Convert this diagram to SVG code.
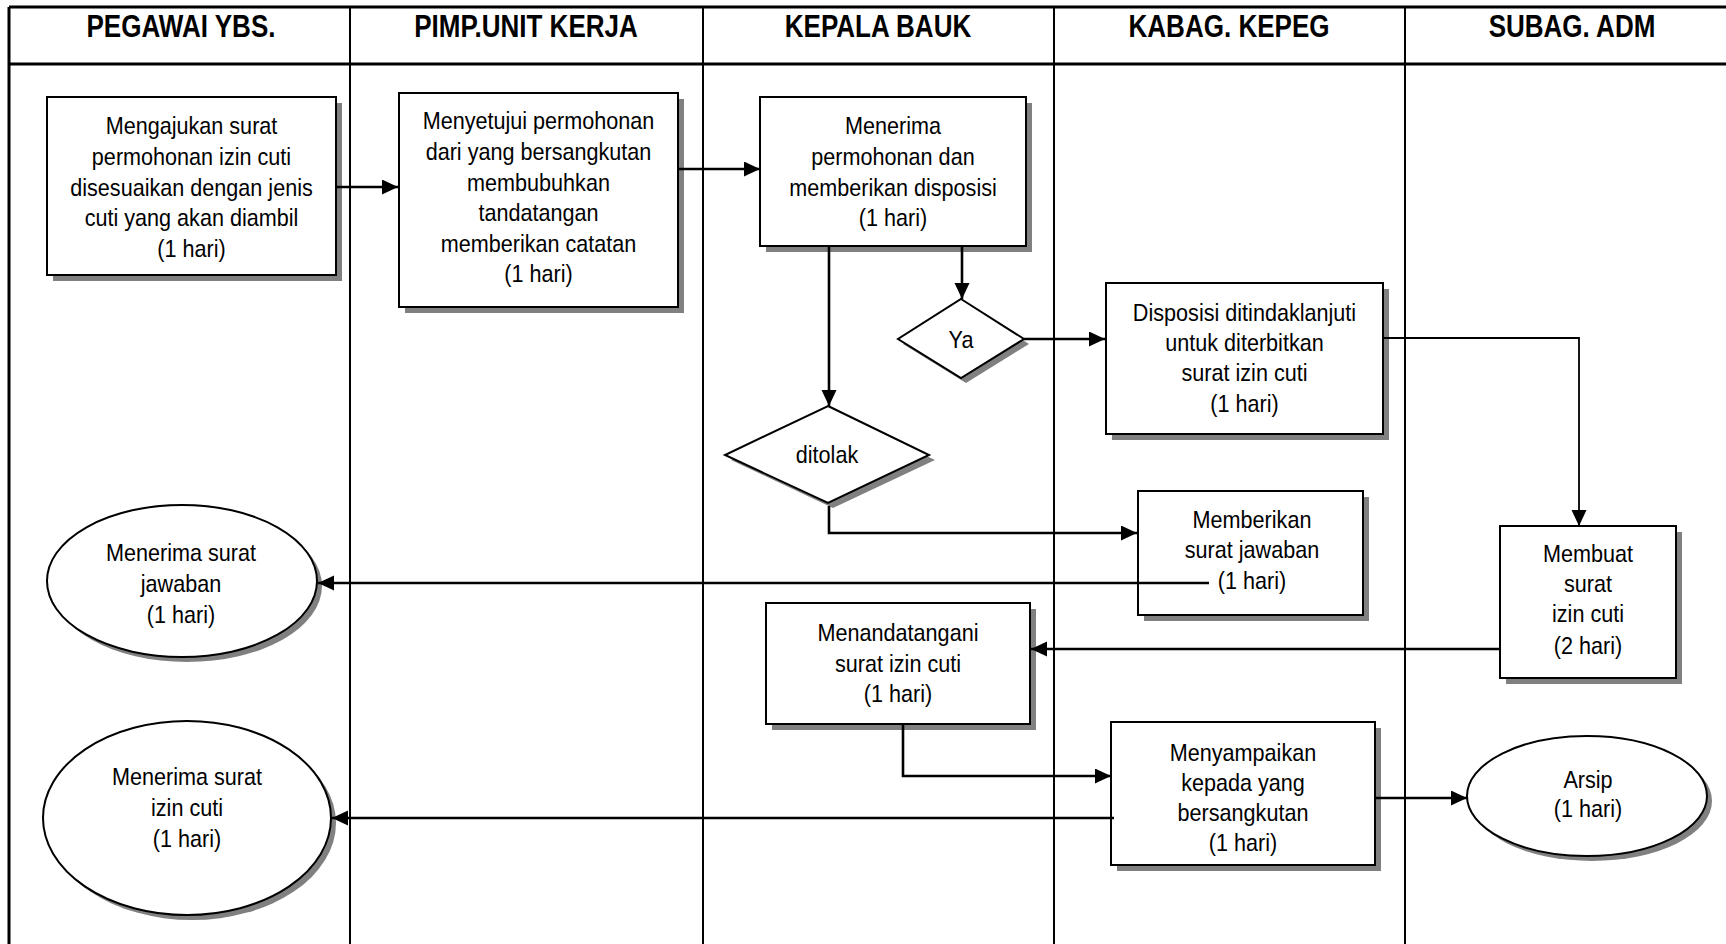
<svg xmlns="http://www.w3.org/2000/svg" width="1726" height="944" viewBox="0 0 1726 944">
<style>
.bg{fill:#fff}
.frame{stroke:#000;stroke-width:3;fill:none}
.lane{stroke:#000;stroke-width:2;fill:none}
.node{fill:#fff;stroke:#000;stroke-width:2}
.shadow{fill:#808080;stroke:none}
.hd{font-family:"Liberation Sans",Arial,sans-serif;font-weight:bold;font-size:31px;text-anchor:middle;fill:#000}
.t{font-family:"Liberation Sans",Arial,sans-serif;font-size:24px;text-anchor:middle;fill:#000}
.c{stroke:#000;stroke-width:2.6;fill:none}
.cthin{stroke:#000;stroke-width:1.8;fill:none}
</style>
<defs>
<marker id="ah" markerUnits="userSpaceOnUse" markerWidth="17" markerHeight="16" refX="16" refY="7.5" orient="auto">
<path d="M0,0 L16,7.5 L0,15 Z" fill="#000"/>
</marker>
</defs>
<rect class="bg" x="0" y="0" width="1726" height="944"/>
<g id="frame">
<line class="frame" x1="9" y1="7" x2="1726" y2="7"/>
<line class="frame" x1="9" y1="7" x2="9" y2="944"/>
<line class="frame" x1="9" y1="64" x2="1726" y2="64"/>
<line class="lane" x1="350" y1="7" x2="350" y2="944"/>
<line class="lane" x1="703" y1="7" x2="703" y2="944"/>
<line class="lane" x1="1054" y1="7" x2="1054" y2="944"/>
<line class="lane" x1="1405" y1="7" x2="1405" y2="944"/>
</g>
<g id="headers">
<text class="hd" transform="translate(181 0) scale(0.84 1)" x="0" y="37">PEGAWAI YBS.</text>
<text class="hd" transform="translate(526 0) scale(0.84 1)" x="0" y="37">PIMP.UNIT KERJA</text>
<text class="hd" transform="translate(878 0) scale(0.84 1)" x="0" y="37">KEPALA BAUK</text>
<text class="hd" transform="translate(1229 0) scale(0.84 1)" x="0" y="37">KABAG. KEPEG</text>
<text class="hd" transform="translate(1572 0) scale(0.84 1)" x="0" y="37">SUBAG. ADM</text>
</g>

<g id="n-mengajukan">
<rect class="shadow" x="53" y="103" width="289" height="178"/>
<rect class="node" x="47" y="97" width="289" height="178"/>
<text class="t" transform="translate(191.5 0) scale(0.9 1)"><tspan x="0" y="134">Mengajukan surat</tspan><tspan x="0" y="165">permohonan izin cuti</tspan><tspan x="0" y="196">disesuaikan dengan jenis</tspan><tspan x="0" y="226">cuti yang akan diambil</tspan><tspan x="0" y="257">(1 hari)</tspan></text>
</g>

<g id="n-menyetujui">
<rect class="shadow" x="405" y="99" width="279" height="214"/>
<rect class="node" x="399" y="93" width="279" height="214"/>
<text class="t" transform="translate(538.5 0) scale(0.9 1)"><tspan x="0" y="129">Menyetujui permohonan</tspan><tspan x="0" y="160">dari yang bersangkutan</tspan><tspan x="0" y="191">membubuhkan</tspan><tspan x="0" y="221">tandatangan</tspan><tspan x="0" y="252">memberikan catatan</tspan><tspan x="0" y="282">(1 hari)</tspan></text>
</g>

<g id="n-menerima">
<rect class="shadow" x="766" y="103" width="266" height="149"/>
<rect class="node" x="760" y="97" width="266" height="149"/>
<text class="t" transform="translate(893 0) scale(0.9 1)"><tspan x="0" y="134">Menerima</tspan><tspan x="0" y="165">permohonan dan</tspan><tspan x="0" y="196">memberikan disposisi</tspan><tspan x="0" y="226">(1 hari)</tspan></text>
</g>

<g id="n-ya">
<polygon class="shadow" points="966,304 1029,344 966,383 903,344"/>
<polygon class="node" points="961,299 1024,339 961,378 898,339"/>
<text class="t" transform="translate(961 0) scale(0.9 1)" x="0" y="348">Ya</text>
</g>

<g id="n-ditolak">
<polygon class="shadow" points="833,411 935,460 833,508 731,460"/>
<polygon class="node" points="828,406 929,455 828,503 725,455"/>
<text class="t" transform="translate(827 0) scale(0.9 1)" x="0" y="463">ditolak</text>
</g>

<g id="n-disposisi">
<rect class="shadow" x="1112" y="289" width="277" height="151"/>
<rect class="node" x="1106" y="283" width="277" height="151"/>
<text class="t" transform="translate(1244.5 0) scale(0.9 1)"><tspan x="0" y="321">Disposisi ditindaklanjuti</tspan><tspan x="0" y="351">untuk diterbitkan</tspan><tspan x="0" y="381">surat izin cuti</tspan><tspan x="0" y="412">(1 hari)</tspan></text>
</g>

<g id="n-memberikan">
<rect class="shadow" x="1144" y="497" width="225" height="124"/>
<rect class="node" x="1138" y="491" width="225" height="124"/>
<text class="t" transform="translate(1252 0) scale(0.9 1)"><tspan x="0" y="528">Memberikan</tspan><tspan x="0" y="558">surat jawaban</tspan><tspan x="0" y="589">(1 hari)</tspan></text>
</g>

<g id="n-membuat">
<rect class="shadow" x="1506" y="532" width="176" height="152"/>
<rect class="node" x="1500" y="526" width="176" height="152"/>
<text class="t" transform="translate(1588 0) scale(0.9 1)"><tspan x="0" y="562">Membuat</tspan><tspan x="0" y="592">surat</tspan><tspan x="0" y="622">izin cuti</tspan><tspan x="0" y="654">(2 hari)</tspan></text>
</g>

<g id="n-menandatangani">
<rect class="shadow" x="772" y="609" width="264" height="121"/>
<rect class="node" x="766" y="603" width="264" height="121"/>
<text class="t" transform="translate(898 0) scale(0.9 1)"><tspan x="0" y="641">Menandatangani</tspan><tspan x="0" y="672">surat izin cuti</tspan><tspan x="0" y="702">(1 hari)</tspan></text>
</g>

<g id="n-menyampaikan">
<rect class="shadow" x="1117" y="728" width="264" height="143"/>
<rect class="node" x="1111" y="722" width="264" height="143"/>
<text class="t" transform="translate(1243 0) scale(0.9 1)"><tspan x="0" y="761">Menyampaikan</tspan><tspan x="0" y="791">kepada yang</tspan><tspan x="0" y="821">bersangkutan</tspan><tspan x="0" y="851">(1 hari)</tspan></text>
</g>

<g id="n-terima-jawaban">
<ellipse class="shadow" cx="187" cy="586" rx="135" ry="76"/>
<ellipse class="node" cx="182" cy="581" rx="135" ry="76"/>
<text class="t" transform="translate(181 0) scale(0.9 1)"><tspan x="0" y="561">Menerima surat</tspan><tspan x="0" y="592">jawaban</tspan><tspan x="0" y="623">(1 hari)</tspan></text>
</g>

<g id="n-terima-izin">
<ellipse class="shadow" cx="192" cy="823" rx="144" ry="97"/>
<ellipse class="node" cx="187" cy="818" rx="144" ry="97"/>
<text class="t" transform="translate(187 0) scale(0.9 1)"><tspan x="0" y="785">Menerima surat</tspan><tspan x="0" y="816">izin cuti</tspan><tspan x="0" y="847">(1 hari)</tspan></text>
</g>

<g id="n-arsip">
<ellipse class="shadow" cx="1592" cy="801" rx="120" ry="60"/>
<ellipse class="node" cx="1587" cy="796" rx="120" ry="60"/>
<text class="t" transform="translate(1588 0) scale(0.9 1)"><tspan x="0" y="788">Arsip</tspan><tspan x="0" y="817">(1 hari)</tspan></text>
</g>

<g id="connectors">
<line class="c" x1="336" y1="187" x2="398" y2="187" marker-end="url(#ah)"/>
<line class="c" x1="678" y1="169" x2="760" y2="169" marker-end="url(#ah)"/>
<line class="c" x1="829" y1="246" x2="829" y2="406" marker-end="url(#ah)"/>
<line class="c" x1="962" y1="246" x2="962" y2="299" marker-end="url(#ah)"/>
<line class="c" x1="1024" y1="339" x2="1105" y2="339" marker-end="url(#ah)"/>
<polyline class="cthin" points="1383,338 1579,338 1579,526" marker-end="url(#ah)"/>
<polyline class="c" points="829,506 829,533 1137,533" marker-end="url(#ah)"/>
<line class="c" x1="1209" y1="583" x2="318" y2="583" marker-end="url(#ah)"/>
<line class="c" x1="1500" y1="649" x2="1031" y2="649" marker-end="url(#ah)"/>
<polyline class="c" points="903,724 903,776 1111,776" marker-end="url(#ah)"/>
<line class="c" x1="1114" y1="818" x2="332" y2="818" marker-end="url(#ah)"/>
<line class="c" x1="1375" y1="798" x2="1467" y2="798" marker-end="url(#ah)"/>
</g>
</svg>
